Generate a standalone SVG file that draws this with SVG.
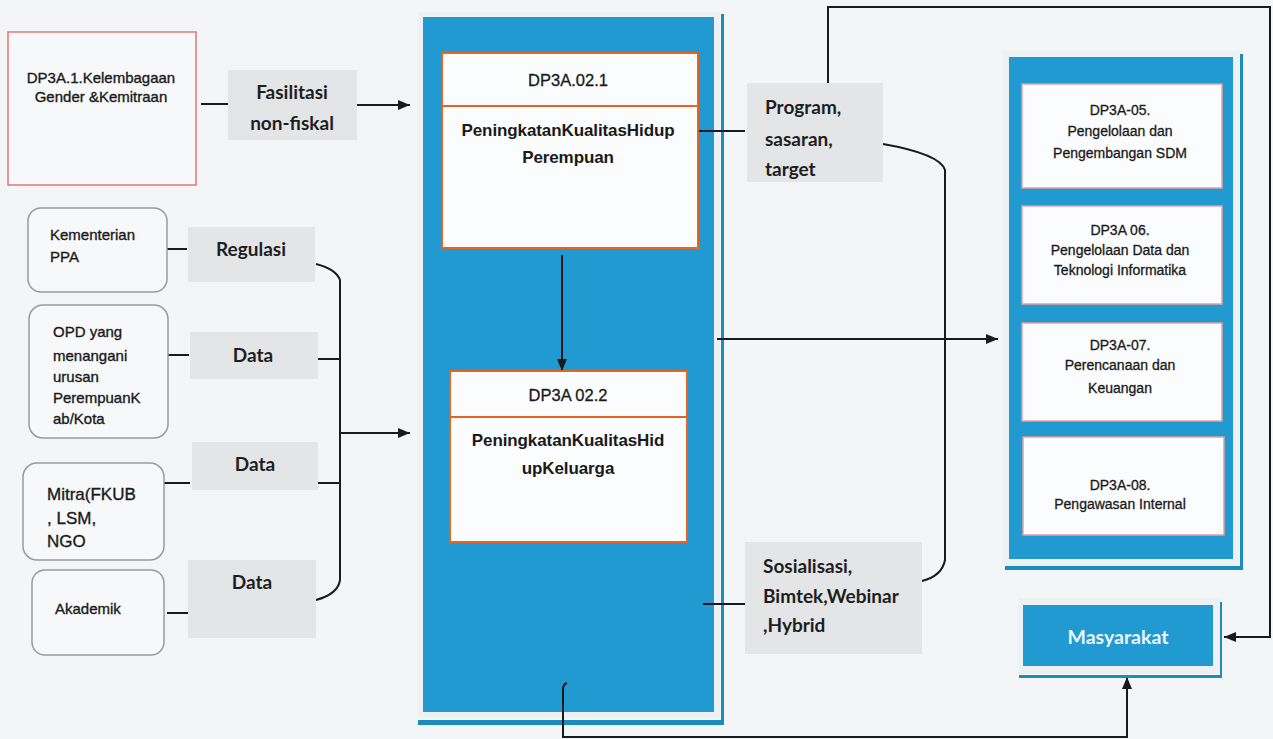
<svg xmlns="http://www.w3.org/2000/svg" width="1273" height="739" viewBox="0 0 1273 739">
  <style>
    .bg { fill: #f3f5f7; }
    .src { fill: #f7f8fa; stroke: #9a9a9a; stroke-width: 1.5; }
    .lbl { fill: #e3e5e7; }
    .lbl-t { font-family: Lato, "Open Sans", sans-serif; font-weight: bold; font-size: 19px; fill: #1e1e1e; }
    .node-t { font-family: "Liberation Sans", Arial, sans-serif; font-size: 15px; fill: #1a1a1a; stroke: #1a1a1a; stroke-width: 0.35px; }
    .unit-t { font-family: "Liberation Sans", Arial, sans-serif; font-size: 14px; fill: #1a1a1a; stroke: #1a1a1a; stroke-width: 0.3px; }
    .prog { fill: #fbfcfd; stroke: #e8641e; stroke-width: 2; }
    .prog-h { font-family: "Liberation Sans", Arial, sans-serif; font-size: 16.5px; fill: #1a1a1a; stroke: #1a1a1a; stroke-width: 0.3px; }
    .prog-b { font-family: "Liberation Sans", Arial, sans-serif; font-weight: bold; font-size: 17px; fill: #1a1a1a; letter-spacing: -0.1px; }
    .unit { fill: #fbfcfd; stroke: #e4a0a0; stroke-width: 1.5; }
    .panel { fill: #2199d1; }
    .frame { fill: #eef1f4; }
    .edge { fill: #1b8cc0; }
    .wire { fill: none; stroke: #1a1a1a; stroke-width: 2; }
  </style>
  <defs>
    <marker id="arr" viewBox="0 0 12 10" refX="12" refY="5" markerWidth="12" markerHeight="10" markerUnits="userSpaceOnUse" orient="auto">
      <path d="M0,0 L12,5 L0,10 Z" fill="#1a1a1a"/>
    </marker>
  </defs>

  <rect class="bg" x="0" y="0" width="1273" height="739"/>

  <!-- central program panel -->
  <g id="panel-program">
    <rect class="frame" x="418" y="12" width="302" height="706"/>
    <rect class="edge" x="721" y="14" width="3" height="711"/>
    <rect class="edge" x="418" y="720" width="306" height="5"/>
    <rect class="panel" x="423" y="17" width="291" height="695"/>
  </g>

  <!-- supporting units panel -->
  <g id="panel-units">
    <rect class="frame" x="1003" y="51" width="236" height="515"/>
    <rect class="edge" x="1240" y="54" width="3" height="516"/>
    <rect class="edge" x="1005" y="566" width="238" height="4"/>
    <rect class="panel" x="1009" y="57" width="224" height="502"/>
  </g>

  <!-- connectors -->
  <g id="connectors">
    <!-- Kelembagaan to program panel -->
    <path class="wire" d="M201,104 H228"/>
    <path class="wire" d="M357,105 H410" marker-end="url(#arr)"/>
    <!-- source stubs -->
    <path class="wire" d="M166,249 H187"/>
    <path class="wire" d="M168,355 H189"/>
    <path class="wire" d="M164,483 H190"/>
    <path class="wire" d="M167,613 H188"/>
    <!-- bracket collecting inputs -->
    <path class="wire" d="M316,264 Q336,269 340,280 V580 Q338,594 316,600"/>
    <path class="wire" d="M318,359 H340"/>
    <path class="wire" d="M318,483 H340"/>
    <path class="wire" d="M340,433 H410" marker-end="url(#arr)"/>
    <!-- program 02.1 to 02.2 -->
    <path class="wire" d="M562,255 V371" marker-end="url(#arr)"/>
    <!-- outputs -->
    <path class="wire" d="M698,131 H745"/>
    <path class="wire" d="M703,604 H745"/>
    <path class="wire" d="M883,144 Q940,154 945,170 V560 Q942,576 922,581"/>
    <path class="wire" d="M717,339 H998" marker-end="url(#arr)"/>
    <!-- feedback to Masyarakat -->
    <path class="wire" d="M828,83 V7 H1270 V637 H1224" marker-end="url(#arr)"/>
    <path class="wire" d="M567,683 Q563,684 563,690 V737 H1127 V677" marker-end="url(#arr)"/>
  </g>

  <g id="node-kelembagaan">
    <rect x="8" y="32" width="188" height="153" fill="#f7f8fa" stroke="#e07878" stroke-width="1.5"/>
    <text class="node-t" text-anchor="middle" x="101" y="83">DP3A.1.Kelembagaan</text>
    <text class="node-t" text-anchor="middle" x="101" y="102">Gender &amp;Kemitraan</text>
  </g>

  <g id="label-fasilitasi">
    <rect class="lbl" x="228" y="70" width="129" height="70"/>
    <text class="lbl-t" text-anchor="middle" x="292" y="99">Fasilitasi</text>
    <text class="lbl-t" text-anchor="middle" x="292" y="130">non-fiskal</text>
  </g>

  <g id="node-kementerian">
    <rect class="src" x="28" y="208" width="139" height="84" rx="13"/>
    <text class="node-t" x="50" y="240">Kementerian</text>
    <text class="node-t" x="50" y="262">PPA</text>
  </g>

  <g id="label-regulasi">
    <rect class="lbl" x="188" y="227" width="127" height="55"/>
    <text class="lbl-t" text-anchor="middle" x="251" y="256">Regulasi</text>
  </g>

  <g id="node-opd">
    <rect class="src" x="29" y="305" width="139" height="133" rx="14"/>
    <text class="node-t" x="53" y="337">OPD yang</text>
    <text class="node-t" x="53" y="361">menangani</text>
    <text class="node-t" x="53" y="382">urusan</text>
    <text class="node-t" x="53" y="403">PerempuanK</text>
    <text class="node-t" x="53" y="424">ab/Kota</text>
  </g>

  <g id="label-data-opd">
    <rect class="lbl" x="190" y="332" width="128" height="47"/>
    <text class="lbl-t" text-anchor="middle" x="253" y="362">Data</text>
  </g>

  <g id="node-mitra">
    <rect class="src" x="23" y="463" width="141" height="97" rx="14"/>
    <text class="node-t" x="47" y="500" style="font-size:17px">Mitra(FKUB</text>
    <text class="node-t" x="47" y="524" style="font-size:17px">, LSM,</text>
    <text class="node-t" x="47" y="547" style="font-size:17px">NGO</text>
  </g>

  <g id="label-data-mitra">
    <rect class="lbl" x="192" y="442" width="126" height="48"/>
    <text class="lbl-t" text-anchor="middle" x="255" y="471">Data</text>
  </g>

  <g id="node-akademik">
    <rect class="src" x="32" y="570" width="132" height="85" rx="13"/>
    <text class="node-t" x="55" y="614">Akademik</text>
  </g>

  <g id="label-data-akademik">
    <rect class="lbl" x="188" y="560" width="128" height="78"/>
    <text class="lbl-t" text-anchor="middle" x="252" y="589">Data</text>
  </g>

  <g id="node-program-021">
    <rect class="prog" x="442" y="53" width="256" height="195"/>
    <line x1="442" y1="106" x2="698" y2="106" stroke="#e8641e" stroke-width="2"/>
    <text class="prog-h" text-anchor="middle" x="568" y="86">DP3A.02.1</text>
    <text class="prog-b" text-anchor="middle" x="568" y="136">PeningkatanKualitasHidup</text>
    <text class="prog-b" text-anchor="middle" x="568" y="163">Perempuan</text>
  </g>

  <g id="node-program-022">
    <rect class="prog" x="450" y="371" width="237" height="171"/>
    <line x1="450" y1="417" x2="687" y2="417" stroke="#e8641e" stroke-width="2"/>
    <text class="prog-h" text-anchor="middle" x="568" y="401">DP3A 02.2</text>
    <text class="prog-b" text-anchor="middle" x="568" y="446">PeningkatanKualitasHid</text>
    <text class="prog-b" text-anchor="middle" x="568" y="474">upKeluarga</text>
  </g>

  <g id="label-program">
    <rect class="lbl" x="747" y="83" width="136" height="99"/>
    <text class="lbl-t" x="765" y="114">Program,</text>
    <text class="lbl-t" x="765" y="146">sasaran,</text>
    <text class="lbl-t" x="765" y="176">target</text>
  </g>

  <g id="label-sosialisasi">
    <rect class="lbl" x="745" y="542" width="177" height="112"/>
    <text class="lbl-t" x="763" y="573">Sosialisasi,</text>
    <text class="lbl-t" x="763" y="603">Bimtek,Webinar</text>
    <text class="lbl-t" x="763" y="632">,Hybrid</text>
  </g>

  <g id="node-dp3a-05">
    <rect class="unit" x="1022" y="84" width="200" height="104"/>
    <text class="unit-t" text-anchor="middle" x="1120" y="115">DP3A-05.</text>
    <text class="unit-t" text-anchor="middle" x="1120" y="136">Pengelolaan dan</text>
    <text class="unit-t" text-anchor="middle" x="1120" y="158">Pengembangan SDM</text>
  </g>

  <g id="node-dp3a-06">
    <rect class="unit" x="1022" y="206" width="200" height="98"/>
    <text class="unit-t" text-anchor="middle" x="1120" y="235">DP3A 06.</text>
    <text class="unit-t" text-anchor="middle" x="1120" y="255">Pengelolaan Data dan</text>
    <text class="unit-t" text-anchor="middle" x="1120" y="275">Teknologi Informatika</text>
  </g>

  <g id="node-dp3a-07">
    <rect class="unit" x="1022" y="323" width="200" height="98"/>
    <text class="unit-t" text-anchor="middle" x="1120" y="350">DP3A-07.</text>
    <text class="unit-t" text-anchor="middle" x="1120" y="370">Perencanaan dan</text>
    <text class="unit-t" text-anchor="middle" x="1120" y="393">Keuangan</text>
  </g>

  <g id="node-dp3a-08">
    <rect class="unit" x="1023" y="437" width="201" height="98"/>
    <text class="unit-t" text-anchor="middle" x="1120" y="490">DP3A-08.</text>
    <text class="unit-t" text-anchor="middle" x="1120" y="509">Pengawasan Internal</text>
  </g>

  <g id="node-masyarakat">
    <rect class="frame" x="1018" y="598" width="202" height="76"/>
    <rect class="edge" x="1220" y="602" width="2" height="76"/>
    <rect class="edge" x="1019" y="675" width="203" height="3"/>
    <rect class="panel" x="1023" y="605" width="190" height="61"/>
    <text text-anchor="middle" x="1118" y="644" font-family="Lato, 'Open Sans', sans-serif" font-weight="bold" font-size="19.5" fill="#eaf6fc">Masyarakat</text>
  </g>
</svg>
